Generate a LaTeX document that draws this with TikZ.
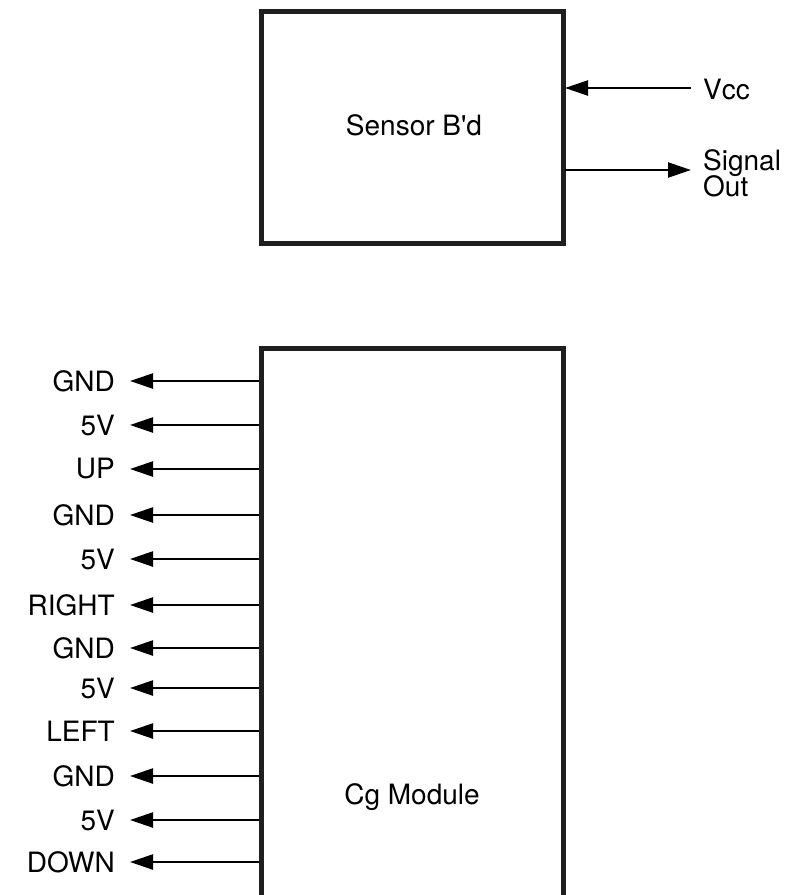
\documentclass[tikz,border=0pt]{standalone}
\usepackage{fontspec}
\setmainfont{TeX Gyre Heros}
\usetikzlibrary{arrows.meta}
\begin{document}
\begin{tikzpicture}[x=1pt,y=-1pt,
  box/.style={draw=black!88,line width=5pt},
  sig/.style={line width=2.4pt,-{Triangle[length=23pt,width=15pt]}},
  lbl/.style={font=\fontsize{28}{30}\selectfont,inner sep=0pt},
  pin/.style={lbl,anchor=east}]
\useasboundingbox (0,0) rectangle (802,895);
% boxes
\draw[box] (261,911) -- (261,348) -- (563,348) -- (563,911);
\draw[box] (261,11) rectangle (563,243);
\node[lbl] (sensor) at (414,125) {Sensor B\textquotesingle d};
\node[lbl] (cg) at (412,797) {Cg Module};
% sensor ports
\coordinate (vccin) at (565,88);
\coordinate (sigout) at (565,170);
\node[lbl,anchor=west] (vcc) at (703,89) {Vcc};
\node[lbl,anchor=west,align=left] (signal) at (703,173) {Signal\\[-4pt]Out};
\coordinate (vs) at (691,88);
\draw[sig] (vs) -- (vccin);
\draw[sig] (sigout) -- (691,170) coordinate (se);
% Cg module pins
\foreach \t/\y [count=\i] in {GND/381,5V/425,UP/469,GND/515,5V/559,RIGHT/605,GND/648,5V/688,LEFT/731,GND/776,5V/820,DOWN/862}{
  \node[pin] (p\i) at (115,\y) {\t};
  \coordinate (q\i) at (259,\y);
  \draw[sig] (q\i) -- ([xshift=15pt]p\i.east);
}
\end{tikzpicture}
\end{document}
